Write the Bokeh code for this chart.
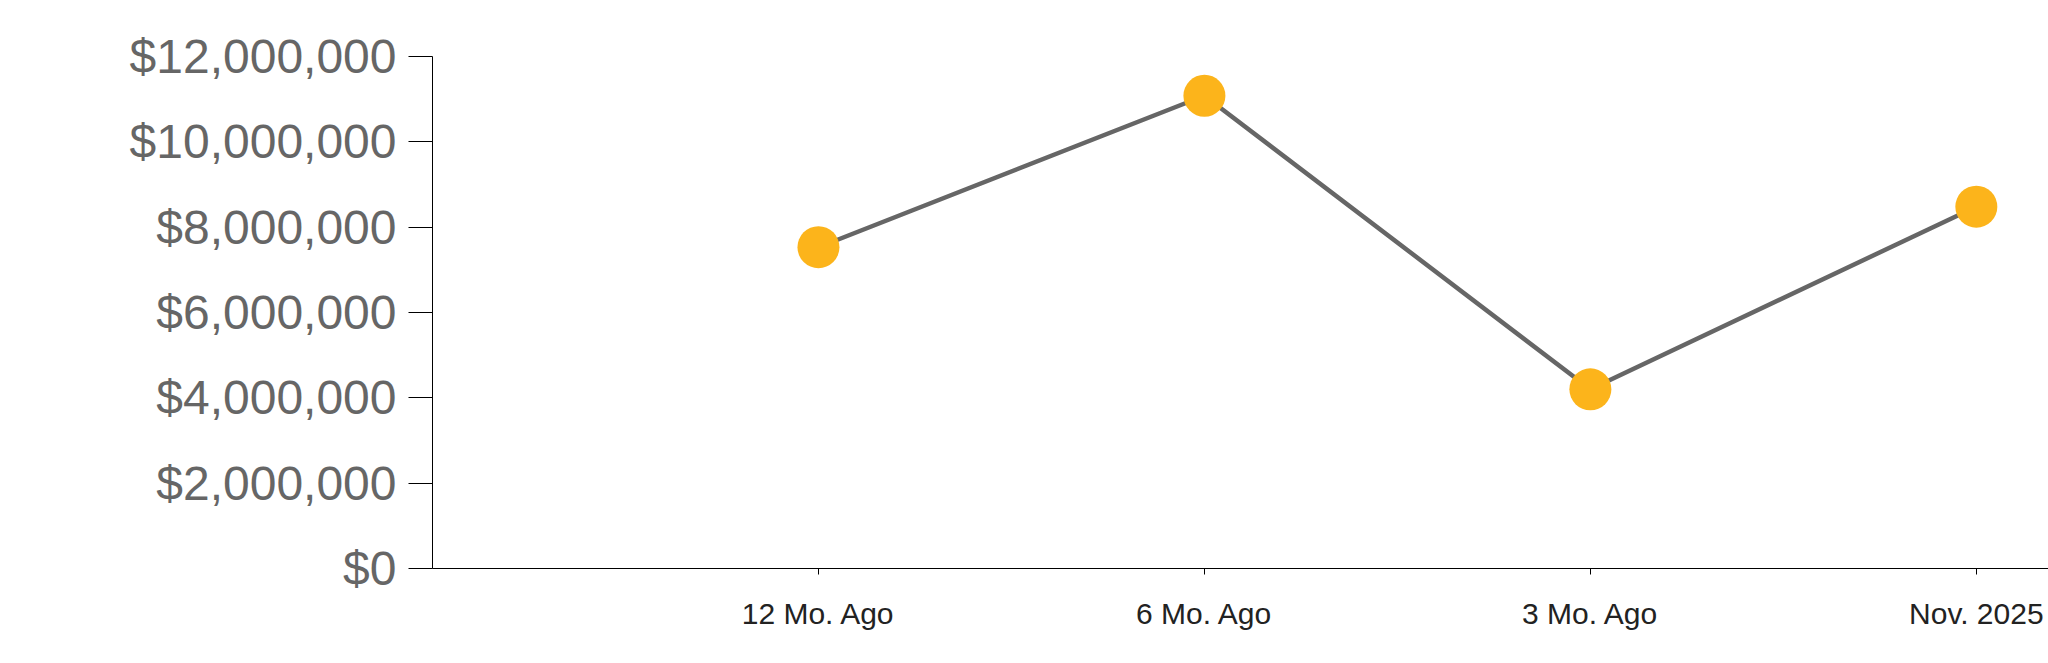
from bokeh.plotting import figure
from bokeh.models import Range1d, FixedTicker, NumeralTickFormatter
from bokeh.embed import file_html
from bokeh.resources import INLINE

categories = ["12 Mo. Ago", "6 Mo. Ago", "3 Mo. Ago", "Nov. 2025"]
values = [7530000, 11080000, 4200000, 8480000]
y_ticks = [0, 2000000, 4000000, 6000000, 8000000, 10000000, 12000000]

positions = list(range(1, len(categories) + 1))

p = figure(
    width=2048, height=660,
    x_range=Range1d(0, 4.187),
    y_range=Range1d(0, 12000000),
    output_backend="svg", toolbar_location=None,
    min_border_left=432, min_border_right=0, min_border_top=56, min_border_bottom=92,
)
p.outline_line_color = None
p.xgrid.visible = False
p.ygrid.visible = False
p.background_fill_color = "white"
p.border_fill_color = "white"

p.line(positions, values, line_color="#666666", line_width=4.5)
p.scatter(positions, values, size=42, fill_color="#FCB41B", line_color=None)

ya = p.yaxis[0]
ya.ticker = FixedTicker(ticks=y_ticks)
ya.formatter = NumeralTickFormatter(format="$0,0")
ya.bounds = (-140000, 12000000)
ya.major_tick_out = 24
ya.major_tick_in = 0
ya.minor_tick_line_color = None
ya.axis_line_color = "black"
ya.major_tick_line_color = "black"
ya.major_label_standoff = 12
ya.major_label_text_font = "Liberation Sans"
ya.major_label_text_font_size = "48px"
ya.major_label_text_color = "#666666"

xa = p.xaxis[0]
xa.ticker = FixedTicker(ticks=positions)
xa.major_label_overrides = {pos: cat for pos, cat in zip(positions, categories)}
xa.minor_tick_line_color = None
xa.major_tick_out = 6
xa.major_tick_in = 0
xa.axis_line_color = "black"
xa.major_tick_line_color = "black"
xa.major_label_standoff = 22
xa.major_label_text_font = "Liberation Sans"
xa.major_label_text_font_size = "30px"
xa.major_label_text_color = "#222222"

open("out.html", "w").write(file_html(p, INLINE))
